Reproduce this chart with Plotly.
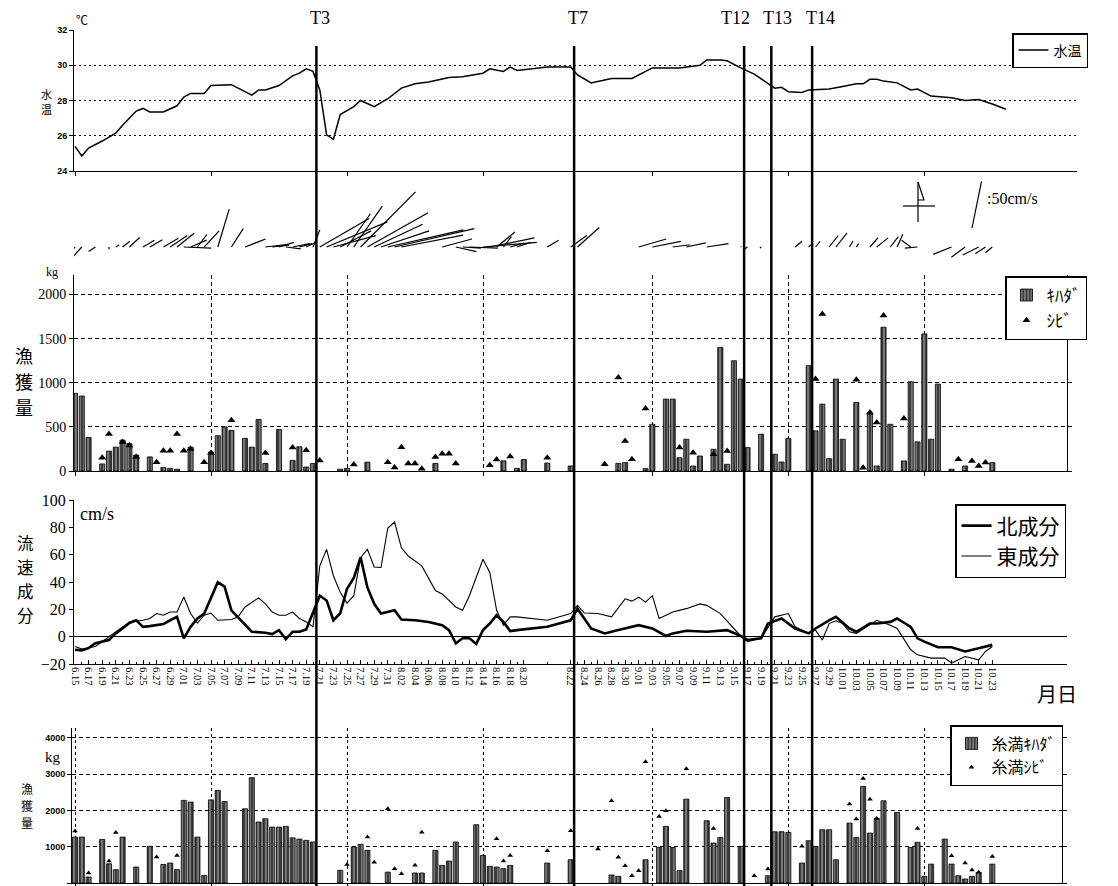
import numpy as np
import plotly.graph_objects as go

W, H = 1118, 886
SERIF = "Liberation Serif"
SANS = "Liberation Sans"
JP = "Noto Sans CJK JP"

# ---------------------------------------------------------------- calendar
MONTH_START = {6: -14, 7: 16, 8: 47, 9: 78, 10: 108}   # day index of the 1st (6.15 -> 0)


def day_index(s):
    m, d = s.split(".")
    return MONTH_START[int(m)] + int(d) - 1


# the date axis is drawn stretched around 8.20-8.22
AXIS_KNOT_DAYS = [0, 66, 68, 140]
AXIS_KNOT_POS = [0, 66, 72.9, 144.9]


def axis_pos(dates, shift=0.0):
    d = np.array([day_index(s) for s in dates], float) + shift
    return np.interp(d, AXIS_KNOT_DAYS, AXIS_KNOT_POS)


# ---------------------------------------------------------------- data
date_labels = ["6.15", "6.17", "6.19", "6.21", "6.23", "6.25", "6.27", "6.29", "7.01", "7.03",
               "7.05", "7.07", "7.09", "7.11", "7.13", "7.15", "7.17", "7.19", "7.21", "7.23",
               "7.25", "7.27", "7.29", "7.31", "8.02", "8.04", "8.06", "8.08", "8.10", "8.12",
               "8.14", "8.16", "8.18", "8.20", "8.22", "8.24", "8.26", "8.28", "8.30", "9.01",
               "9.03", "9.05", "9.07", "9.09", "9.11", "9.13", "9.15", "9.17", "9.19", "9.21",
               "9.23", "9.25", "9.27", "9.29", "10.01", "10.03", "10.05", "10.07", "10.09",
               "10.11", "10.13", "10.15", "10.17", "10.19", "10.21", "10.23"]
grid_dates = ["6.15", "7.05", "7.25", "8.14", "9.03", "9.23", "10.13"]

# water temperature (deg C)
temp_dates = ["6.15", "6.16", "6.17", "6.19", "6.21", "6.22", "6.24", "6.25", "6.26", "6.28",
              "6.30", "7.01", "7.02", "7.04", "7.05", "7.08", "7.11", "7.12", "7.13", "7.15",
              "7.17", "7.18", "7.19", "7.20", "7.21", "7.22", "7.23", "7.24", "7.26", "7.27",
              "7.29", "7.31", "8.02", "8.04", "8.06", "8.09", "8.11", "8.14", "8.15", "8.17",
              "8.18", "8.19", "8.21", "8.22", "8.23", "8.25", "8.28", "8.29", "8.31", "9.03",
              "9.04", "9.07", "9.10", "9.11", "9.13", "9.14", "9.16", "9.18", "9.21", "9.22",
              "9.23", "9.25", "9.26", "9.29", "10.01", "10.03", "10.04", "10.05", "10.06",
              "10.07", "10.09", "10.11", "10.12", "10.14", "10.17", "10.19", "10.21", "10.23",
              "10.25"]
temp_values = [25.4, 24.85, 25.3, 25.7, 26.15, 26.6, 27.4, 27.55, 27.35, 27.35,
               27.7, 28.2, 28.4, 28.4, 28.85, 28.9, 28.3, 28.6, 28.6, 28.85,
               29.4, 29.55, 29.8, 29.65, 28.6, 26.05, 25.8, 27.2, 27.65, 28.0,
               27.65, 28.1, 28.7, 28.95, 29.05, 29.3, 29.35, 29.55, 29.8, 29.65,
               29.9, 29.7, 29.9, 29.9, 29.45, 29.0, 29.25, 29.25, 29.25, 29.85,
               29.85, 29.85, 30.0, 30.3, 30.3, 30.25, 29.85, 29.5, 28.7, 28.75,
               28.5, 28.45, 28.6, 28.65, 28.8, 28.95, 28.95, 29.2, 29.2,
               29.1, 29.0, 28.6, 28.65, 28.25, 28.15, 28.0, 28.05, 27.8,
               27.5]

# current components (cm/s)
north_dates = ["6.15", "6.16", "6.17", "6.18", "6.20", "6.21", "6.22", "6.23", "6.24", "6.25",
               "6.26", "6.28", "6.29", "6.30", "7.01", "7.02", "7.03", "7.04", "7.06", "7.07",
               "7.08", "7.10", "7.11", "7.13", "7.14", "7.15", "7.16", "7.17", "7.18", "7.19",
               "7.20", "7.21", "7.22", "7.23", "7.24", "7.25", "7.26", "7.27", "7.28", "7.29",
               "7.30", "7.31", "8.01", "8.02", "8.04", "8.06", "8.08", "8.09", "8.10", "8.11",
               "8.12", "8.13", "8.14", "8.15", "8.16", "8.17", "8.18", "8.19", "8.21", "8.22",
               "8.23", "8.25", "8.27", "8.29", "9.01", "9.03", "9.05", "9.06", "9.08", "9.11",
               "9.14", "9.16", "9.17", "9.19", "9.20", "9.22", "9.24", "9.26", "9.27", "9.29",
               "9.30", "10.02", "10.03", "10.05", "10.06", "10.08", "10.09", "10.11", "10.12",
               "10.13", "10.15", "10.17", "10.19", "10.21", "10.22", "10.23"]
north_cms = [-9.6, -10, -8.4, -4.8, -2.4, 2.4, 6, 10, 12, 7.2,
             7.7, 9.2, 12, 14.5, -1.2, 7.2, 13.3, 16.9, 39.8, 36.6,
             19.3, 8.4, 3.6, 2.9, 1.9, 4.8, -1.9, 3.6, 3.6, 5.3,
             18, 30, 26.5, 12, 17, 35, 43, 58, 36, 24,
             17, 18, 19.3, 12.5, 12, 10.8, 8.4, 4.8, -4.8, -1.2,
             -1.2, -5.3, 4.8, 9.6, 15.7, 10.8, 4.1, 4.8, 7.2, 12,
             20.5, 6, 2.4, 4.8, 8.4, 6, 0.5, 2.4, 4.3, 3.6,
             4.8, 0.5, -2.4, -1.2, 9.6, 13.3, 6, 2.4, 6, 12,
             14.5, 6, 3.6, 9.6, 9.6, 10.8, 13.3, 7.2, -1.2,
             -3.6, -7.7, -7.7, -10.8, -8.4, -7.2, -6]
east_dates = ["6.15", "6.16", "6.18", "6.19", "6.20", "6.21", "6.22", "6.23", "6.25", "6.26",
              "6.27", "6.28", "6.29", "6.30", "7.01", "7.02", "7.03", "7.04", "7.05", "7.06",
              "7.08", "7.09", "7.10", "7.12", "7.13", "7.14", "7.15", "7.16", "7.17", "7.18",
              "7.19", "7.20", "7.21", "7.22", "7.23", "7.24", "7.25", "7.26", "7.27", "7.28",
              "7.29", "7.30", "7.31", "8.01", "8.02", "8.03", "8.05", "8.07", "8.08", "8.10",
              "8.11", "8.12", "8.14", "8.15", "8.16", "8.17", "8.18", "8.19", "8.21", "8.22",
              "8.23", "8.24", "8.26", "8.28", "8.30", "8.31", "9.01", "9.02", "9.03", "9.04",
              "9.06", "9.08", "9.10", "9.11", "9.13", "9.15", "9.16", "9.17", "9.19", "9.21",
              "9.23", "9.24", "9.26", "9.27", "9.28", "9.29", "9.30", "10.01", "10.02", "10.03",
              "10.05", "10.06", "10.08", "10.09", "10.11", "10.12", "10.14", "10.16", "10.17",
              "10.19", "10.21", "10.22", "10.23"]
east_cms = [-7.2, -9, -7.2, -3.6, 0, 3.6, 7.7, 10.8, 12, 13.3,
            16.9, 15.7, 18, 18, 29, 16.9, 10, 15.7, 17.3, 12,
            12.5, 14.5, 21.7, 28.4, 24, 18, 15.7, 15.7, 18, 13.3,
            10.8, 7.2, 51.8, 63.9, 44.6, 32.5, 24.6, 30, 57.8, 63.9,
            51, 50.6, 79.5, 83.9, 65, 59, 51.8, 33.7, 31.3, 21.7,
            19.3, 30, 56.6, 47, 19.3, 8.4, 14.5, 14.5, 12, 16.9,
            22.9, 17.3, 16.9, 14.5, 27.7, 26, 28.9, 25.3, 30, 13.3,
            18, 20.5, 24, 22.9, 16.9, 6, 0.5, -3.6, -1.2, 14.5,
            16.9, 7.2, 2.4, 4.8, -2.4, 9.6, 11.6, 9.6, 3.6, 2.4,
            8.4, 12, 8.4, 6, -9.6, -13.3, -15.7, -15.7, -19.3,
            -14.5, -16.9, -10.8, -7.2]

# catch (kg)
kihada_dates = ["6.15", "6.16", "6.17", "6.19", "6.20", "6.21", "6.22", "6.23", "6.24", "6.26",
                "6.28", "6.29", "6.30", "7.02", "7.05", "7.06", "7.07", "7.08", "7.10", "7.11",
                "7.12", "7.13", "7.15", "7.17", "7.18", "7.19", "7.20", "7.24", "7.25", "7.28",
                "8.07", "8.17", "8.19", "8.20", "8.21", "8.22", "8.29", "8.30", "9.02", "9.03",
                "9.05", "9.06", "9.07", "9.08", "9.09", "9.10", "9.12", "9.13", "9.14", "9.15",
                "9.16", "9.17", "9.19", "9.21", "9.22", "9.23", "9.26", "9.27", "9.28", "9.29",
                "9.30", "10.01", "10.03", "10.05", "10.06", "10.07", "10.08", "10.10", "10.11",
                "10.12", "10.13", "10.14", "10.15", "10.17", "10.19", "10.23"]
kihada_kg = [880, 850, 380, 80, 225, 270, 350, 310, 180, 160,
             40, 30, 20, 270, 215, 400, 500, 460, 370, 270,
             585, 85, 470, 120, 275, 45, 85, 20, 30, 100,
             85, 115, 30, 130, 90, 57, 87, 95, 27, 530,
             815, 815, 150, 360, 57, 170, 246, 1402, 76, 1250,
             1042, 265, 417, 190, 102, 368, 1194, 455, 758, 140,
             1042, 360, 777, 644, 57, 1630, 530, 114, 1012,
             330, 1554, 360, 985, 20, 57, 95]
shibi_dates = ["6.19", "6.20", "6.22", "6.23", "6.24", "6.27", "6.28", "6.29", "6.30", "7.01",
               "7.02", "7.04", "7.05", "7.08", "7.13", "7.17", "7.19", "7.21", "7.26", "7.31",
               "8.01", "8.02", "8.03", "8.04", "8.05", "8.07", "8.08", "8.09", "8.10", "8.15",
               "8.16", "8.18", "8.21", "8.27", "8.29", "8.30", "8.31", "9.02", "9.07", "9.09",
               "9.12", "9.14", "9.27", "9.28", "10.03", "10.04", "10.05", "10.06", "10.07",
               "10.10", "10.18", "10.20", "10.21", "10.22"]
shibi_kg = [150, 420, 330, 290, 160, 100, 230, 230, 420, 230,
            250, 100, 205, 575, 205, 265, 235, 120, 75, 100,
            40, 270, 85, 85, 25, 160, 195, 195, 85, 65,
            130, 165, 150, 76, 1061, 341, 133, 709, 265, 208,
            190, 227, 1042, 1781, 1035, 38, 663, 550, 1762,
            595, 133, 114, 57, 95]

# Itoman landings (kg)
itoman_kihada_dates = ["6.15", "6.16", "6.17", "6.19", "6.20", "6.21", "6.22", "6.24", "6.26", "6.28",
                       "6.29", "6.30", "7.01", "7.02", "7.03", "7.04", "7.05", "7.06", "7.07", "7.10",
                       "7.11", "7.12", "7.13", "7.14", "7.15", "7.16", "7.17", "7.18", "7.19", "7.20",
                       "7.24", "7.26", "7.27", "7.28", "7.31", "8.04", "8.05", "8.07", "8.08", "8.09",
                       "8.10", "8.13", "8.14", "8.15", "8.16", "8.17", "8.18", "8.21", "8.22", "8.28",
                       "8.29", "9.02", "9.04", "9.05", "9.06", "9.07", "9.08", "9.11", "9.12", "9.13",
                       "9.14", "9.16", "9.20", "9.21", "9.22", "9.23", "9.25", "9.26", "9.27", "9.28",
                       "9.29", "9.30", "10.02", "10.03", "10.04", "10.05", "10.06", "10.07", "10.09",
                       "10.11", "10.12", "10.13", "10.14", "10.16", "10.17", "10.18", "10.19", "10.20",
                       "10.21", "10.23"]
itoman_kihada_kg = [1265, 1265, 165, 1200, 530, 367, 1265, 440, 1010, 513,
                    550, 367, 2275, 2230, 1265, 210, 2290, 2550, 2245, 2045,
                    2900, 1680, 1770, 1540, 1540, 1560, 1245, 1210, 1175, 1130,
                    350, 990, 1065, 900, 300, 275, 275, 900, 485, 605,
                    1130, 1605, 760, 460, 440, 395, 485, 550, 640, 220,
                    183, 640, 980, 1560, 980, 340, 2310, 1715, 1100, 1255,
                    2355, 1010, 200, 1412, 1412, 1394, 550, 1165, 1010, 1467,
                    1467, 640, 1650, 1255, 2660, 1375, 1780, 2265, 1945,
                    980, 1120, 183, 520, 1210, 520, 200, 110, 183,
                    293, 520]
itoman_shibi_dates = ["6.15", "6.17", "6.20", "6.21", "6.27", "6.30", "7.25", "7.28", "7.29", "7.31",
                      "8.01", "8.02", "8.04", "8.05", "8.16", "8.17", "8.18", "8.21", "8.22", "8.26",
                      "8.28", "8.29", "8.30", "8.31", "9.01", "9.02", "9.04", "9.05", "9.08", "9.12",
                      "9.18", "9.20", "9.25", "10.02", "10.03", "10.04", "10.05", "10.06", "10.12",
                      "10.17", "10.19", "10.20", "10.21", "10.23"]
itoman_shibi_kg = [1430, 275, 605, 1393, 715, 760, 513, 1265, 570, 2045,
                   395, 257, 486, 1400, 1220, 605, 760, 890, 1440, 935,
                   2265, 706, 477, 200, 340, 3340, 1834, 1990, 3150, 1500,
                   200, 385, 1010, 2173, 1760, 2880, 2310, 1780, 1500,
                   750, 550, 357, 293, 733]

# survey events
T_NAMES = ["T3", "T7", "T12", "T13", "T14"]
T_DATES = ["7.20", "8.22", "9.16", "9.20", "9.26"]

# ---------------------------------------------------------------- geometry
X0_PX = 75.0        # pixel column of 6.15
PX_PER_POS = 6.8    # pixels per axis unit
STICK_PX = 0.95     # pixels per cm/s in the stick diagram
STICK_BASE_PX = 247


def xr(left, right):
    return [(left - X0_PX) / PX_PER_POS, (right - X0_PX) / PX_PER_POS]


def fx(px):
    return px / W


def fy(py):
    return 1 - py / H


fig = go.Figure()

# water temperature
fig.add_trace(go.Scatter(x=axis_pos(temp_dates), y=temp_values, mode="lines",
                         line=dict(color="black", width=1.5), name="水温",
                         xaxis="x", yaxis="y", legend="legend"))

# current vectors as sticks
nmap = dict(zip(north_dates, north_cms))
emap = dict(zip(east_dates, east_cms))
common = [d for d in north_dates if d in emap]
sx, sy = [], []
for d, p in zip(common, axis_pos(common)):
    sx += [p, p + emap[d] * STICK_PX / PX_PER_POS, None]
    sy += [0, nmap[d], None]
fig.add_trace(go.Scatter(x=sx, y=sy, mode="lines", line=dict(color="black", width=1.2),
                         showlegend=False, hoverinfo="skip", xaxis="x2", yaxis="y2"))

bar_marker = dict(color="#3c3c3c", line=dict(color="black", width=0.8),
                  pattern=dict(shape="|", fgcolor="white", bgcolor="#3c3c3c", size=4, solidity=0.3))

# catch
fig.add_trace(go.Bar(x=axis_pos(kihada_dates), y=kihada_kg, width=0.75, marker=bar_marker,
                     name="ｷﾊﾀﾞ", xaxis="x3", yaxis="y3", legend="legend2"))
fig.add_trace(go.Scatter(x=axis_pos(shibi_dates), y=shibi_kg, mode="markers",
                         marker=dict(symbol="triangle-up", size=7, color="black"),
                         name="ｼﾋﾞ", xaxis="x3", yaxis="y3", legend="legend2"))

# current components
fig.add_trace(go.Scatter(x=axis_pos(north_dates), y=north_cms, mode="lines",
                         line=dict(color="black", width=2.6), name="北成分",
                         xaxis="x4", yaxis="y4", legend="legend3"))
fig.add_trace(go.Scatter(x=axis_pos(east_dates), y=east_cms, mode="lines",
                         line=dict(color="black", width=1.1), name="東成分",
                         xaxis="x4", yaxis="y4", legend="legend3"))

# Itoman landings
fig.add_trace(go.Bar(x=axis_pos(itoman_kihada_dates), y=itoman_kihada_kg, width=0.75,
                     marker=bar_marker, name="糸満ｷﾊﾀﾞ", xaxis="x5", yaxis="y5", legend="legend4"))
fig.add_trace(go.Scatter(x=axis_pos(itoman_shibi_dates), y=itoman_shibi_kg, mode="markers",
                         marker=dict(symbol="triangle-up", size=5, color="black"),
                         name="糸満ｼﾋﾞ", xaxis="x5", yaxis="y5", legend="legend4"))

# ---------------------------------------------------------------- axes
grid_pos = axis_pos(grid_dates)
every_day = [f"{m}.{d:02d}" for m, n0, n1 in [(6, 15, 30), (7, 1, 31), (8, 1, 31), (9, 1, 30), (10, 1, 23)]
             for d in range(n0, n1 + 1)]


def xaxis(left, right, anchor, **kw):
    a = dict(domain=[fx(left), fx(right)], range=xr(left, right), anchor=anchor,
             showline=True, linecolor="black", linewidth=1, zeroline=False, showgrid=False,
             ticks="outside", ticklen=4, tickcolor="black", showticklabels=False,
             tickvals=grid_pos, fixedrange=True, automargin=False)
    a.update(kw)
    return a


def yaxis(top, bottom, rng, anchor, **kw):
    a = dict(domain=[fy(bottom), fy(top)], range=rng, anchor=anchor,
             showline=True, linecolor="black", linewidth=1, zeroline=False,
             ticks="outside", ticklen=4, tickcolor="black", fixedrange=True, automargin=False,
             showgrid=True, gridcolor="black", gridwidth=1, griddash="4px,3px")
    a.update(kw)
    return a


layout = dict(
    width=W, height=H, autosize=False,
    margin=dict(l=0, r=0, t=0, b=0, pad=0, autoexpand=False),
    paper_bgcolor="white", plot_bgcolor="white", barmode="overlay", showlegend=True,
    xaxis=xaxis(74, 1077, "y"),
    yaxis=yaxis(30, 171, [24, 32], "x", dtick=2, griddash="2px,3px",
                tickfont=dict(family=SANS, size=9, weight="bold", color="black")),
    xaxis2=xaxis(74, 1067, "y2", visible=False),
    yaxis2=dict(domain=[fy(262), fy(180)], anchor="x2", visible=False, fixedrange=True,
                range=[-(262 - STICK_BASE_PX) / STICK_PX, (STICK_BASE_PX - 180) / STICK_PX]),
    xaxis3=xaxis(74, 1067, "y3", showgrid=True, gridcolor="black", griddash="4px,3px"),
    yaxis3=yaxis(275, 471, [0, 2222], "x3", dtick=500, mirror="ticks",
                 tickfont=dict(family=SERIF, size=14, color="black")),
    xaxis4=xaxis(74, 1067, "y4", tickvals=axis_pos(date_labels), ticktext=date_labels,
                 showticklabels=True, tickangle=90, ticks="inside", ticklen=4,
                 tickfont=dict(family=SERIF, size=10.5, color="black"),
                 minor=dict(tickvals=axis_pos(every_day), ticks="inside", ticklen=2,
                            tickcolor="black")),
    yaxis4=yaxis(500, 664, [-20, 100], "x4", dtick=20, showgrid=False, zeroline=True,
                 zerolinecolor="black", zerolinewidth=1.2,
                 tickfont=dict(family=SERIF, size=16, color="black")),
    xaxis5=xaxis(72, 1062, "y5", showgrid=True, gridcolor="black", griddash="3px,3px"),
    yaxis5=yaxis(728, 883, [0, 4270], "x5", dtick=1000, mirror="ticks",
                 tickfont=dict(family=SANS, size=9, weight="bold", color="black")),
)

box = dict(bgcolor="white", bordercolor="black", borderwidth=1.5, xanchor="left",
           yanchor="top", itemclick=False, itemdoubleclick=False)
layout["legend"] = dict(box, x=fx(1012), y=fy(33), font=dict(family=JP, size=14, color="black"))
layout["legend2"] = dict(box, x=fx(1005), y=fy(276), font=dict(family=JP, size=17, color="black"))
layout["legend3"] = dict(box, x=fx(955), y=fy(504), font=dict(family=JP, size=21, color="black"))
layout["legend4"] = dict(box, x=fx(950), y=fy(725), font=dict(family=JP, size=16, color="black"))
fig.update_layout(**layout)


def note(text, px, py, size, family=SERIF, xanchor="center", **kw):
    fig.add_annotation(text=text, x=fx(px), y=fy(py), xref="paper", yref="paper",
                       xanchor=xanchor, yanchor="middle", showarrow=False,
                       font=dict(family=family, size=size, color="black"), **kw)


def vertical_title(text, px, py_first, step, size):
    # one character per line, stacked top to bottom
    for i, ch in enumerate(text):
        note(ch, px, py_first + i * step, size, family=JP)


# axis titles and units
note("℃", 82, 20, 12, family=JP)
vertical_title("水温", 46, 94, 15, 11)
note("kg", 52, 272, 12)
vertical_title("漁獲量", 24, 355, 26, 18)
note("cm/s", 78, 514, 18, xanchor="left")
vertical_title("流速成分", 25, 543, 24, 16.5)
note("月日", 1057, 693, 20, family=JP)
note("kg", 53, 757, 15, family=SERIF)
vertical_title("漁獲量", 27, 788, 17, 12)

# survey lines
T_LABEL_SHIFT = [4, 4, -9, 6, 8]
for name, p, dx in zip(T_NAMES, axis_pos(T_DATES, shift=0.5), T_LABEL_SHIFT):
    fig.add_shape(type="line", xref="x4", yref="paper", x0=p, x1=p, y0=0, y1=fy(46),
                  line=dict(color="black", width=2.5))
    fig.add_annotation(text=name, xref="x4", yref="paper", x=p, y=fy(18), xshift=dx,
                       xanchor="center", yanchor="middle", showarrow=False,
                       font=dict(family=SERIF, size=18, color="black"))

# north mark and stick scale
fig.add_shape(type="line", xref="paper", yref="paper", x0=fx(918), x1=fx(918), y0=fy(182), y1=fy(222),
              line=dict(color="black", width=1.2))
fig.add_shape(type="line", xref="paper", yref="paper", x0=fx(903), x1=fx(935), y0=fy(206), y1=fy(206),
              line=dict(color="black", width=1.2))
fig.add_shape(type="path", xref="paper", yref="paper",
              path=f"M {fx(918)} {fy(182)} L {fx(924)} {fy(200)} L {fx(918)} {fy(200)}",
              line=dict(color="black", width=1.2))
scale_x0 = (972 - X0_PX) / PX_PER_POS
scale_y0 = (STICK_BASE_PX - 228) / STICK_PX
fig.add_shape(type="line", xref="x2", yref="y2", x0=scale_x0, y0=scale_y0,
              x1=scale_x0 + 10 * STICK_PX / PX_PER_POS, y1=scale_y0 + 49,
              line=dict(color="black", width=1.2))
note(":50cm/s", 985, 198, 16, xanchor="left")

fig.write_html("out.html", post_script="document.body.style.margin = '0';")
